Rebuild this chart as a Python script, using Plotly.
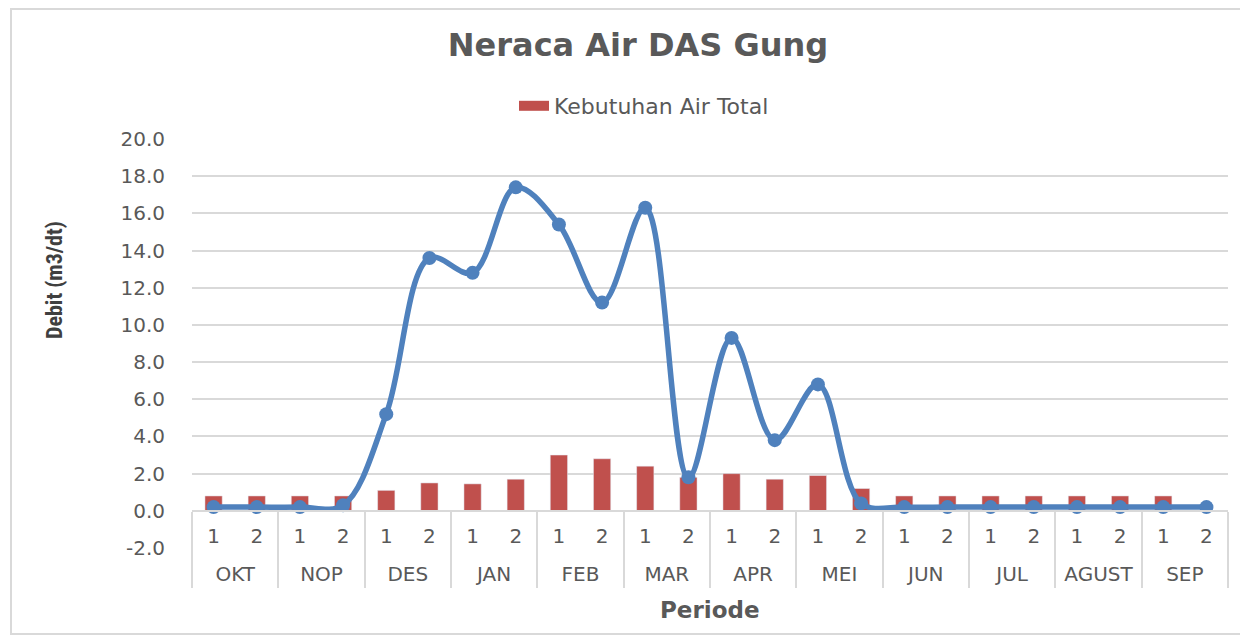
import plotly.graph_objects as go

months = ["OKT", "NOP", "DES", "JAN", "FEB", "MAR", "APR", "MEI", "JUN", "JUL", "AGUST", "SEP"]
periods = ["1", "2"]
kebutuhan_air_total = [0.8, 0.8, 0.8, 0.8, 1.1, 1.5, 1.45, 1.7, 3.0, 2.8, 2.4, 1.8,
                       2.0, 1.7, 1.9, 1.2, 0.8, 0.8, 0.8, 0.8, 0.8, 0.8, 0.8, None]
debit_andalan = [0.2, 0.2, 0.2, 0.3, 5.2, 13.6, 12.8, 17.4, 15.4, 11.2, 16.3, 1.8,
                 9.3, 3.8, 6.8, 0.4, 0.2, 0.2, 0.2, 0.2, 0.2, 0.2, 0.2, 0.2]
y_ticks = [-2, 0, 2, 4, 6, 8, 10, 12, 14, 16, 18, 20]
y_tick_labels = [f"{v:.1f}" for v in y_ticks]

categories = [f"{m} {p}" for m in months for p in periods]
period_labels = [p for _ in months for p in periods]
n_cat = len(categories)
n_per = len(periods)
month_centers = [i * n_per + (n_per - 1) / 2 for i in range(len(months))]
month_bounds = [i * n_per - 0.5 for i in range(len(months) + 1)]

GRAY = "#595959"
GRID = "#d9d9d9"
RED = "#c0504d"
BLUE = "#4f81bd"

# page body has an 8px margin: figure coords = reference coords - 8
OFF = 8
W, H = 1240, 628
L, T = 192 - OFF, 139 - OFF
R = W - (1228 - OFF)
B = H - (548 - OFF)
plot_w, plot_h = W - L - R, H - T - B

def px(p):
    return (p - OFF - L) / plot_w

def py(p):
    return (H - B - (p - OFF)) / plot_h

y0_pos = (0 - y_ticks[0]) / (y_ticks[-1] - y_ticks[0])

fig = go.Figure()
fig.add_trace(go.Bar(
    x=categories, y=kebutuhan_air_total, name="Kebutuhan Air Total",
    marker=dict(color=RED), width=0.4, showlegend=False,
))
# legend entry (wide red key) on the month axis
fig.add_trace(go.Scatter(
    x=[None], y=[None], name="Kebutuhan Air Total", mode="lines", xaxis="x2",
    line=dict(color=RED, width=12), showlegend=True, hoverinfo="skip",
))
fig.add_trace(go.Scatter(
    x=categories, y=debit_andalan, name="Debit Andalan",
    mode="lines+markers", line=dict(color=BLUE, width=5.5, shape="spline", smoothing=1.0),
    marker=dict(color=BLUE, size=14), showlegend=False,
))

fig.update_layout(
    width=W, height=H,
    margin=dict(l=L, r=R, t=T, b=B, autoexpand=False),
    paper_bgcolor="white", plot_bgcolor="white",
    font=dict(family="DejaVu Sans", color=GRAY),
    title=dict(text="<b>Neraca Air DAS Gung</b>", xref="container", yref="container",
               x=(638 - OFF) / W, xanchor="center",
               y=1 - (45 - OFF) / H, yanchor="middle",
               font=dict(size=32, color=GRAY, family="DejaVu Sans")),
    legend=dict(orientation="h", xref="container", yref="container", x=(644 - OFF) / W, xanchor="center",
                y=1 - (106 - OFF) / H, yanchor="middle", font=dict(size=22, color=GRAY)),
    xaxis=dict(
        type="category", categoryarray=categories, range=[-0.5, n_cat - 0.5],
        anchor="free", position=y0_pos,
        tickvals=categories, ticktext=period_labels,
        showline=True, linecolor=GRID, linewidth=2,
        tickfont=dict(size=20, color=GRAY), ticks="", ticklabelstandoff=7,
        showgrid=False, zeroline=False,
    ),
    xaxis2=dict(
        overlaying="x", type="linear", range=[-0.5, n_cat - 0.5],
        anchor="free", position=y0_pos, side="bottom",
        tickvals=month_centers, ticktext=months,
        tickfont=dict(size=20, color=GRAY), ticks="", ticklabelstandoff=49,
        showgrid=False, zeroline=False, showline=False,
        minor=dict(tickvals=month_bounds, ticks="outside", ticklen=76,
                   tickcolor=GRID, tickwidth=2, showgrid=False),
    ),
    yaxis=dict(
        range=[y_ticks[0], y_ticks[-1]], tickvals=y_ticks, ticktext=y_tick_labels,
        showgrid=True, gridcolor=GRID, gridwidth=2, zeroline=False,
        tickfont=dict(size=20, color=GRAY), ticks="", ticklabelstandoff=26,
    ),
    annotations=[
        dict(text="<b>Debit (m3/dt)</b>", xref="paper", yref="paper",
             x=px(54), y=py(280), textangle=-90, showarrow=False,
             xanchor="center", yanchor="middle",
             font=dict(size=22, color="#404040", family="Roboto Condensed, Liberation Sans")),
        dict(text="<b>Periode</b>", xref="paper", yref="paper",
             x=px(710), y=py(610), showarrow=False,
             xanchor="center", yanchor="middle",
             font=dict(size=23, color=GRAY, family="DejaVu Sans")),
    ],
    shapes=[dict(type="rect", xref="paper", yref="paper",
                 x0=px(11), x1=px(1256), y0=py(634), y1=py(9),
                 line=dict(color=GRID, width=2), fillcolor="rgba(0,0,0,0)", layer="below")],
)

fig.write_html("out.html")
